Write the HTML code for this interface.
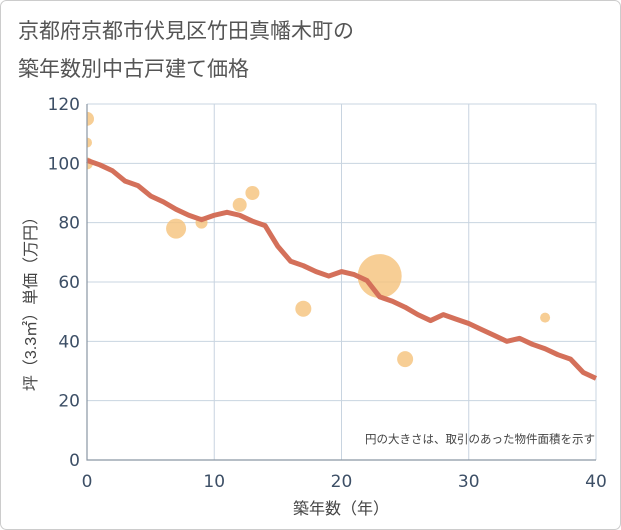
<!DOCTYPE html>
<html><head><meta charset="utf-8"><style>
body{margin:0;background:#fff;}
svg{display:block;font-family:"Liberation Sans","Noto Sans CJK JP",sans-serif;}
.tk{font-family:"DejaVu Sans","Liberation Sans",sans-serif;}
</style></head><body>
<svg id="c" width="621" height="530">
<rect x="0.5" y="0.5" width="620" height="529" rx="6" fill="#fff" stroke="#ccc"/>
<text x="18" y="38" font-size="21" fill="#555">京都府京都市伏見区竹田真幡木町の</text>
<text x="18" y="76" font-size="21" fill="#555">築年数別中古戸建て価格</text>
<g id="grid"></g>
<g id="bubbles"></g>
<g id="line"></g>
<g id="axes"></g>
<text x="595" y="443" font-size="11.5" fill="#444" text-anchor="end">円の大きさは、取引のあった物件面積を示す</text>
<text x="341" y="514" font-size="16" fill="#444" text-anchor="middle">築年数（年）</text>
<text transform="translate(36,300) rotate(-90)" font-size="16" fill="#444" text-anchor="middle">坪（3.3㎡）単価（万円）</text>
</svg>
<script>
const xTicks=[0,10,20,30,40];
const yTicks=[0,20,40,60,80,100,120];
const lineYears=[0,1,2,3,4,5,6,7,8,9,10,11,12,13,14,15,16,17,18,19,20,21,22,23,24,25,26,27,28,29,30,31,32,33,34,35,36,37,38,39,40];
const linePrices=[101,99.5,97.5,94,92.5,89,87,84.5,82.5,81,82.5,83.5,82.5,80.5,79,72,67,65.5,63.5,62,63.5,62.5,60.5,55,53.5,51.5,49,47,49,47.5,46,44,42,40,41,39,37.5,35.5,34,29.5,27.5];
const bubbleYears=[0,0,0,7,9,12,13,17,23,25,36];
const bubblePrices=[115,107,100,78,80,86,90,51,62,34,48];
const bubbleSizes=[7,5,6,10,6,7,7,8,22,8,5];
const NS="http://www.w3.org/2000/svg";
const X0=87,X1=596,Y0=460,Y1=104;
const sx=v=>X0+(v-0)/(40-0)*(X1-X0);
const sy=v=>Y0-(v-0)/(120-0)*(Y0-Y1);
function mk(t,a,p){const e=document.createElementNS(NS,t);for(const k in a)e.setAttribute(k,a[k]);p.appendChild(e);return e;}
const grid=document.getElementById('grid'),axes=document.getElementById('axes');
xTicks.forEach(v=>{if(v>0){const l=mk('line',{x1:sx(v),x2:sx(v),y1:Y1,y2:Y0,stroke:'#c8d4e0','stroke-width':1},grid);

}
const t=mk('text',{x:sx(v),y:487,'font-size':17,fill:'#3d4f66','text-anchor':'middle',class:'tk'},axes);t.textContent=v;

});
yTicks.forEach(v=>{if(v>0){const l=mk('line',{x1:X0,x2:X1,y1:sy(v),y2:sy(v),stroke:'#c8d4e0','stroke-width':1},grid);

}
const t=mk('text',{x:80,y:sy(v)+6,'font-size':17,fill:'#3d4f66','text-anchor':'end',class:'tk'},axes);t.textContent=v;

});
const ax=mk('path',{d:`M${X0},${Y1}V${Y0}H${X1}`,fill:'none',stroke:'#8a96a3','stroke-width':1.2},axes);


const bg=document.getElementById('bubbles');
const clip=mk('clipPath',{id:'pc'},bg);mk('rect',{x:X0,y:Y1-30,width:X1-X0,height:Y0-Y1+30},clip);
bubbleYears.forEach((yr,i)=>{const c=mk('circle',{cx:sx(yr),cy:sy(bubblePrices[i]),r:bubbleSizes[i],fill:'#f5c27a','fill-opacity':0.8,'clip-path':'url(#pc)'},bg);

});
const d=lineYears.map((yr,i)=>(i?'L':'M')+sx(yr)+','+sy(linePrices[i])).join('');
const p=mk('path',{d:d,fill:'none',stroke:'#d4705a','stroke-width':5,'stroke-linejoin':'round'},document.getElementById('line'));


</script>
</body></html>
